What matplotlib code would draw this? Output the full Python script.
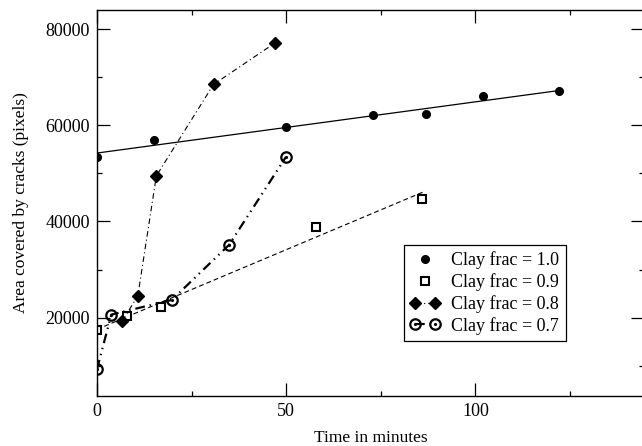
import numpy as np
import matplotlib
matplotlib.use("Agg")
import matplotlib.pyplot as plt
from matplotlib.legend_handler import HandlerLine2D, HandlerTuple

plt.rcParams['font.family'] = ['Liberation Serif', 'DejaVu Serif']
plt.rcParams['lines.scale_dashes'] = False

# Clay fraction 1.0 (points + linear fit)
t_10 = [0, 15, 50, 73, 87, 102, 122]
a_10 = [53370, 56830, 59740, 62030, 62380, 65980, 67020]
# Clay fraction 0.9 (points + linear fit)
t_09 = [0, 8, 17, 58, 86]
a_09 = [17450, 20360, 22290, 38940, 44770]
# Clay fraction 0.8
t_08 = [6.7, 10.8, 15.7, 30.8, 47.0]
a_08 = [19320, 24520, 49480, 68480, 77090]
# Clay fraction 0.7
t_07 = [0, 3.8, 19.8, 34.9, 49.9]
a_07 = [9270, 20630, 23690, 35130, 53370]

labels = ["Clay frac = 1.0", "Clay frac = 0.9", "Clay frac = 0.8", "Clay frac = 0.7"]

fig = plt.figure(figsize=(6.42, 4.46), dpi=100)
ax = fig.add_axes([0.151, 0.112, 0.852, 0.866])

# fits
p10 = np.polyfit(t_10, a_10, 1)
x10 = np.array([t_10[0], t_10[-1]])
ax.plot(x10, np.polyval(p10, x10), color='black', lw=0.9)
p09 = np.polyfit(t_09, a_09, 1)
x09 = np.array([t_09[0], t_09[-1]])
ax.plot(x09, np.polyval(p09, x09), color='black', lw=0.8, linestyle=(0, (3.5, 2.2)))

h10, = ax.plot(t_10, a_10, 'o', color='black', ms=5.5, linestyle='none')
h09, = ax.plot(t_09, a_09, 's', mfc='white', mec='black', mew=1.5, ms=6, linestyle='none')
h08, = ax.plot(t_08, a_08, 'D', color='black', ms=6, lw=0.8,
               linestyle=(0, (4, 2.2, 0.8, 2.2)))
h07, = ax.plot(t_07, a_07, 'o', mfc='none', mec='black', mew=1.6, ms=7.5, color='black',
               lw=1.6, linestyle=(0, (7, 3.5, 1, 3.5, 1, 3.5)))
h07d, = ax.plot(t_07, a_07, '.', color='black', ms=2.5, linestyle='none')

ax.set_xlim(0, 144.5)
ax.set_ylim(3700, 84000)
ax.set_xticks([0, 50, 100])
ax.set_xticks([25, 75, 125], minor=True)
ax.set_yticks([20000, 40000, 60000, 80000])
ax.set_yticks([10000, 30000, 50000, 70000], minor=True)

ax.tick_params(which='both', direction='in', top=True, right=True, labelsize=13, width=0.9)
ax.tick_params(which='major', length=9.5, pad=5)
ax.tick_params(which='minor', length=3.8)
for s in ax.spines.values():
    s.set_linewidth(1.0)

ax.set_xlabel("Time in minutes", fontsize=12.5, labelpad=7)
ax.set_ylabel("Area covered by cracks (pixels)", fontsize=12.5, labelpad=12)

leg = ax.legend([h10, h09, h08, (h07, h07d)], labels,
                handler_map={h10: HandlerLine2D(numpoints=1),
                             h09: HandlerLine2D(numpoints=1),
                             tuple: HandlerTuple(ndivide=1)},
                numpoints=2, loc='lower right', bbox_to_anchor=(0.857, 0.1425),
                borderaxespad=0, fontsize=13, frameon=True, fancybox=False,
                edgecolor='black', framealpha=1, handlelength=1.7,
                handletextpad=0.6, labelspacing=0.22, borderpad=0.35)
leg.get_frame().set_linewidth(0.9)

fig.savefig("out.png", dpi=100)
